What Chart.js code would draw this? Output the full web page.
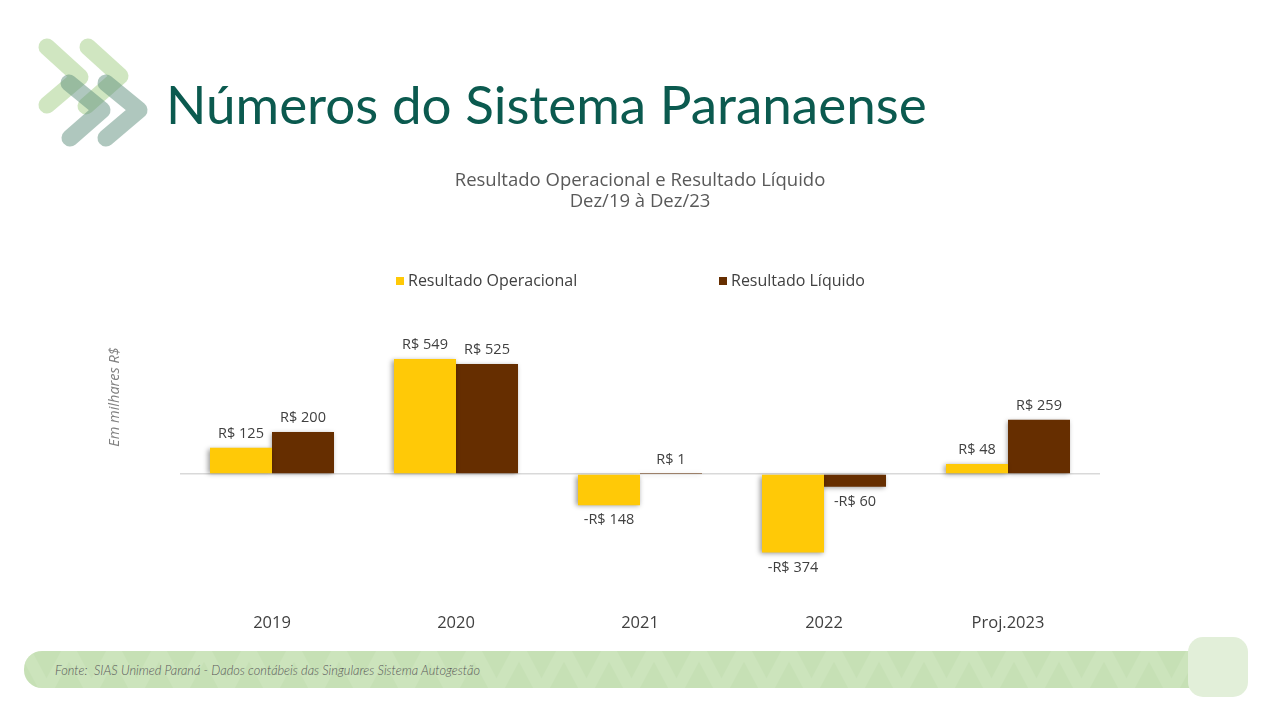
<!DOCTYPE html>
<html>
<head>
<meta charset="utf-8">
<script src="https://cdn.jsdelivr.net/npm/chart.js@4"></script>
<style>
  html, body { margin: 0; padding: 0; background: #fff; }
  #page { position: relative; width: 1280px; height: 720px; overflow: hidden; }
  #logo { position: absolute; left: 0; top: 0; }
  #title { position: absolute; left: 166px; top: 72px; margin: 0; font-family: Lato, sans-serif;
           font-weight: 400; font-size: 53px; color: #0b5a4f; white-space: nowrap; }
  #band { position: absolute; left: 24px; top: 651px; width: 1190px; height: 37px; border-radius: 18px;
          background: #c6e0b5; overflow: hidden; }
  #box { position: absolute; left: 1188px; top: 637px; width: 60px; height: 60px; border-radius: 15px; background: #e2efd9; }
  #fonte { position: absolute; left: 55px; top: 662px; font-family: Lato, sans-serif; font-style: italic;
           font-weight: 300; font-size: 12.8px; color: #595959; white-space: nowrap; }
  canvas { position: absolute; left: 0; top: 0; }
</style>
</head>
<body>
<div id="page">
  <svg id="logo" width="160" height="160">
    <g fill="none" stroke-linecap="round" stroke-linejoin="round" stroke-width="17">
      <polyline points="47,47 80,77 47,105" stroke="#a9d18e" stroke-opacity="0.55"/>
      <polyline points="88,47 120,76 86,106" stroke="#a9d18e" stroke-opacity="0.55"/>
      <polyline points="69,83 102,110 70,138" stroke="#5f8f7d" stroke-opacity="0.5"/>
      <polyline points="106,83 139,110 106,138" stroke="#5f8f7d" stroke-opacity="0.5"/>
    </g>
  </svg>
  <h1 id="title">Números do Sistema Paranaense</h1>
  <div id="band">
    <svg width="1190" height="37">
      <defs>
        <pattern id="zig" width="90" height="37" patternUnits="userSpaceOnUse">
          <path d="M0,-2 L22,39 M45,-2 L23,39 M45,-2 L67,39 M90,-2 L68,39" stroke="#d3e8c5" stroke-width="12" fill="none"/>
        </pattern>
      </defs>
      <rect width="1190" height="37" fill="url(#zig)" opacity="0.45"/>
    </svg>
  </div>
  <div id="box"></div>
  <div id="fonte">Fonte:&nbsp; SIAS Unimed Paraná - Dados contábeis das Singulares Sistema Autogestão</div>
  <canvas id="chart" width="1280" height="720"></canvas>
</div>
<script>
var anos = ['2019', '2020', '2021', '2022', 'Proj.2023'];
var operacional = [125, 549, -148, -374, 48];
var liquido = [200, 525, 1, -60, 259];
var series = ['Resultado Operacional', 'Resultado Líquido'];
var cores = ['#ffc907', '#662e00'];

Chart.defaults.font.family = "'Open Sans', sans-serif";
Chart.defaults.color = '#404040';

function rotulo(v) {
    return (v < 0 ? '-R$ ' : 'R$ ') + Math.abs(v);
}

// shadow, legend, value labels and the y axis caption
var extras = {
    id: 'extras',
    beforeDatasetsDraw(chart) {
        var ctx = chart.ctx;
        ctx.save();
        ctx.shadowColor = 'rgba(0,0,0,0.4)';
        ctx.shadowBlur = 5;
        ctx.shadowOffsetX = -1.5;
        ctx.shadowOffsetY = 1;
    },
    afterDatasetsDraw(chart) {
        var ctx = chart.ctx;
        ctx.restore();
        ctx.save();
        ctx.font = "14.5px 'Open Sans', sans-serif";
        ctx.fillStyle = '#404040';
        ctx.textAlign = 'center';
        ctx.textBaseline = 'middle';
        chart.data.datasets.forEach(function (ds, i) {
            chart.getDatasetMeta(i).data.forEach(function (bar, j) {
                var v = ds.data[j];
                var y = v >= 0 ? bar.y - 14 : bar.y + 15;
                ctx.fillText(rotulo(v), bar.x, y);
            });
        });

        // legend
        ctx.font = "16px 'Open Sans', sans-serif";
        ctx.textAlign = 'left';
        var lx = [396, 719];
        series.forEach(function (s, i) {
            ctx.fillStyle = cores[i];
            ctx.fillRect(lx[i], 277, 8, 8);
            ctx.fillStyle = '#404040';
            ctx.fillText(s, lx[i] + 12, 281);
        });

        // y caption
        ctx.translate(115, 397);
        ctx.rotate(-Math.PI / 2);
        ctx.font = "italic 14.5px 'Open Sans', sans-serif";
        ctx.fillStyle = '#808080';
        ctx.textAlign = 'center';
        ctx.fillText('Em milhares R$', 0, 0);
        ctx.restore();
    }
};

new Chart(document.getElementById('chart'), {
    type: 'bar',
    data: {
        labels: anos,
        datasets: [{
            label: series[0],
            data: operacional,
            backgroundColor: cores[0]
        }, {
            label: series[1],
            data: liquido,
            backgroundColor: cores[1]
        }]
    },
    options: {
        responsive: false,
        animation: false,
        layout: {
            padding: { left: 180, right: 180, top: 170, bottom: 81 }
        },
        datasets: {
            bar: {
                categoryPercentage: 0.674,
                barPercentage: 1
            }
        },
        plugins: {
            legend: { display: false },
            tooltip: { enabled: false },
            title: {
                display: true,
                text: ['Resultado Operacional e Resultado Líquido', 'Dez/19 à Dez/23'],
                color: '#595959',
                font: { size: 18.5, weight: 'normal', lineHeight: 1.14 },
                padding: { top: 0, bottom: 136 }
            }
        },
        scales: {
            x: {
                grid: { display: false, drawTicks: false },
                border: { display: false },
                ticks: { font: { size: 16.5 }, color: '#404040', padding: 34 },
                afterFit: function (s) { s.height = 60; }
            },
            y: {
                min: -500,
                max: 600,
                ticks: { display: false, stepSize: 100 },
                border: { display: false },
                grid: {
                    drawTicks: false,
                    lineWidth: 1.5,
                    color: function (c) { return c.tick && c.tick.value === 0 ? '#d9d9d9' : 'rgba(0,0,0,0)'; }
                },
                afterFit: function (s) { s.width = 0; }
            }
        }
    },
    plugins: [extras]
});
</script>
</body>
</html>
